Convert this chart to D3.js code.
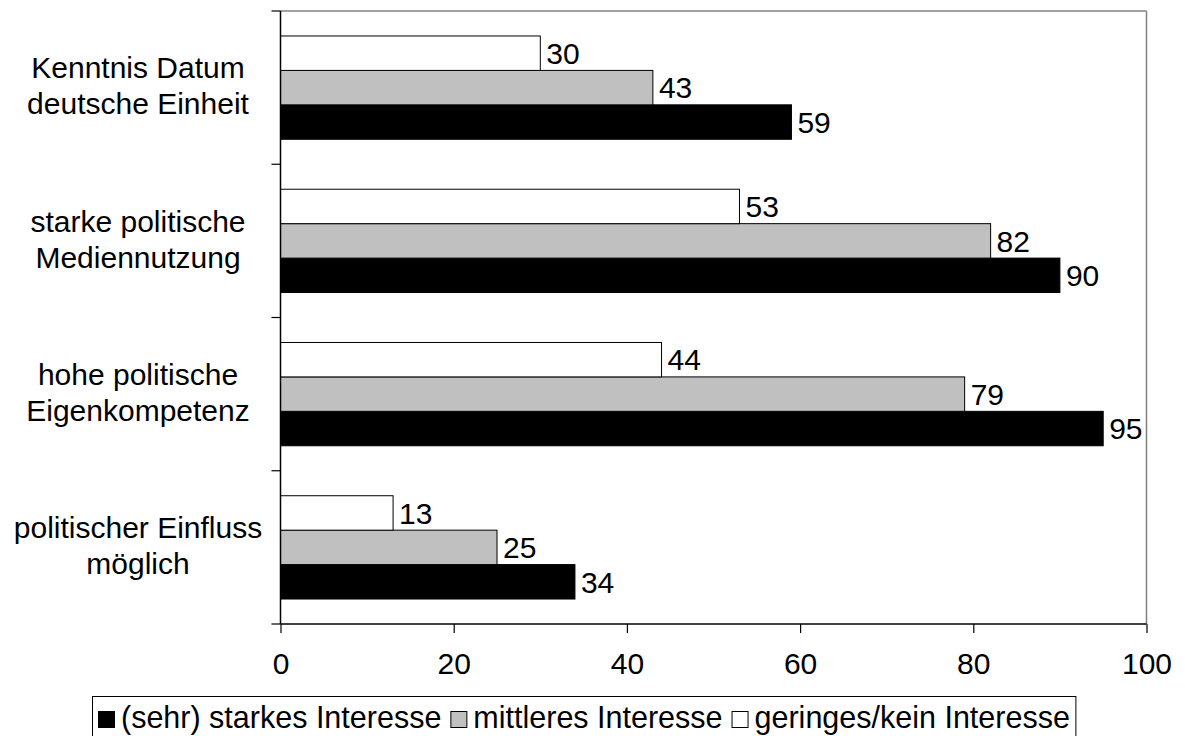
<!DOCTYPE html>
<html><head><meta charset="utf-8">
<script src="https://cdn.jsdelivr.net/npm/d3@7"></script>
<style>body{margin:0;background:#fff;}svg{display:block;font-family:Arial,"Liberation Sans",sans-serif;}</style>
</head><body>
<svg id="c" width="1185" height="736"></svg>
<script>
const categories = [["Kenntnis Datum","deutsche Einheit"],["starke politische","Mediennutzung"],["hohe politische","Eigenkompetenz"],["politischer Einfluss","möglich"]];
const seriesNames = ["(sehr) starkes Interesse","mittleres Interesse","geringes/kein Interesse"];
const strong = [59,90,95,34];
const medium = [43,82,79,25];
const low = [30,53,44,13];
const xTicks = [0,20,40,60,80,100];
const colors = ["#000000","#c0c0c0","#ffffff"];

const FS = 30;
const svg = d3.select("#c");
const L=280.5, R=1146.5, T=11, B=624;
const x = d3.scaleLinear().domain([0,100]).range([L,R]);
const y = d3.scaleBand().domain(d3.range(categories.length)).range([T,B]).paddingInner(0.326).paddingOuter(0.163);
// order inside band: low(top), medium, strong(bottom)
const inner = d3.scaleBand().domain([2,1,0]).range([0,y.bandwidth()]);
const series = [strong, medium, low];

// frame top/right
svg.append("line").attr("x1",L).attr("x2",R).attr("y1",T).attr("y2",T).attr("stroke","#808080").attr("stroke-width",1.5);
svg.append("line").attr("x1",R).attr("x2",R).attr("y1",T).attr("y2",B).attr("stroke","#808080").attr("stroke-width",1.5);

// bars
series.forEach((vals,si)=>{
  const g = svg.append("g");
  g.selectAll("rect").data(vals).join("rect")
    .attr("x",x(0)).attr("y",(d,i)=>y(i)+inner(si))
    .attr("width",d=>x(d)-x(0)).attr("height",inner.bandwidth())
    .attr("fill",colors[si]).attr("stroke","#000").attr("stroke-width",1);
  g.selectAll("text").data(vals).join("text")
    .attr("x",d=>x(d)+6).attr("y",(d,i)=>y(i)+inner(si)+inner.bandwidth()/2)
    .attr("dy","0.36em").attr("font-size",FS).text(d=>d);
});

// left axis
const yEdge = d3.scaleLinear().domain([0,categories.length]).range([T,B]);
svg.append("line").attr("x1",L).attr("x2",L).attr("y1",T).attr("y2",B).attr("stroke","#000").attr("stroke-width",1.5);
svg.selectAll(".yt").data(d3.range(categories.length+1)).join("line")
  .attr("x1",L-9).attr("x2",L).attr("y1",d=>yEdge(d)).attr("y2",d=>yEdge(d)).attr("stroke","#000").attr("stroke-width",1.2);

// category labels
categories.forEach((lines,i)=>{
  const mid = yEdge(i)+ (yEdge(i+1)-yEdge(i))/2 - 2;
  const t = svg.append("text").attr("x",138).attr("text-anchor","middle").attr("font-size",FS);
  lines.forEach((ln,k)=>{
    t.append("tspan").attr("x",138).attr("y",mid + (k-0.5)*36).attr("dy","0.36em").text(ln);
  });
});

// bottom axis
const xa = svg.append("g").attr("transform",`translate(0,${B})`)
  .call(d3.axisBottom(x).tickValues(xTicks).tickSize(9).tickPadding(20).tickFormat(d3.format("d")));
xa.select(".domain").attr("stroke","#000").attr("stroke-width",1.5).attr("d",`M${L},0H${R}`);
xa.selectAll(".tick line").attr("stroke","#000").attr("stroke-width",1.2);
xa.selectAll(".tick text").attr("font-size",FS).attr("fill","#000").attr("font-family","Arial,'Liberation Sans',sans-serif");

// legend
const lg = svg.append("g");
const box = lg.append("rect").attr("x",92.5).attr("y",696.5).attr("height",45).attr("fill","#fff").attr("stroke","#000").attr("stroke-width",1);
let cx = 98;
seriesNames.forEach((n,i)=>{
  lg.append("rect").attr("x",cx+0.5).attr("y",711.5).attr("width",16).attr("height",16).attr("fill",colors[i]).attr("stroke","#000").attr("stroke-width",1);
  const t = lg.append("text").attr("x",cx+23).attr("y",728).attr("font-size",30.5).text(n);
  cx = cx+23+t.node().getComputedTextLength()+9;
});
box.attr("width",cx-3-92.5);
</script>
</body></html>
